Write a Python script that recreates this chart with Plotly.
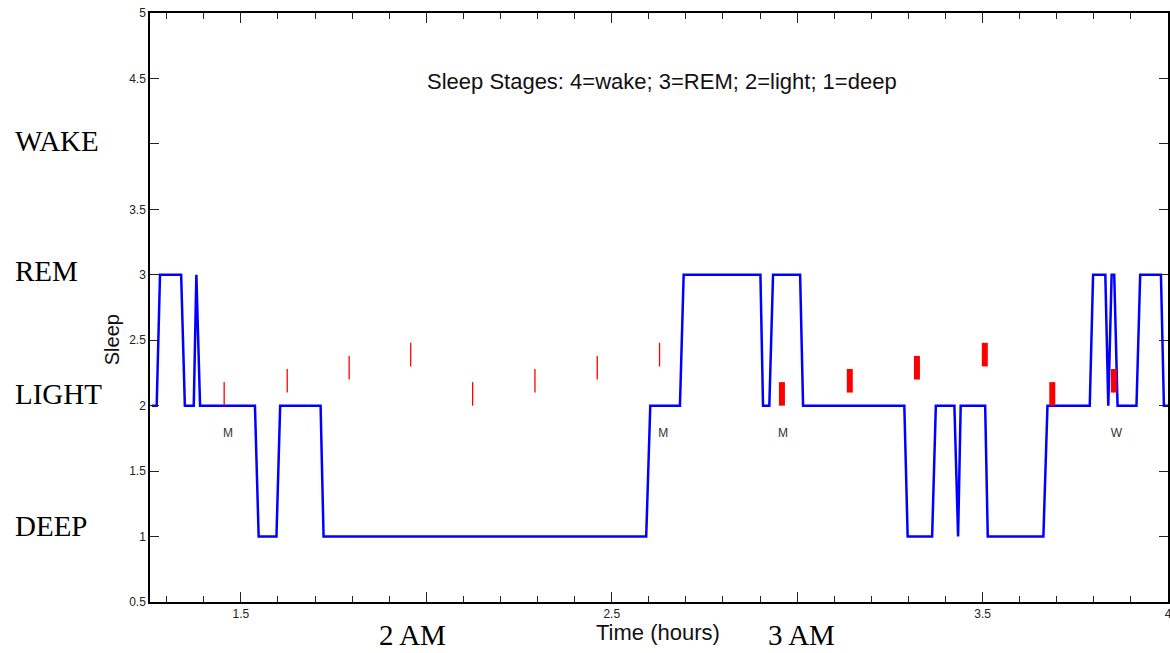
import plotly.graph_objects as go

# Hypnogram (sleep stage vs time in hours)
stage_time = [1.260, 1.273, 1.282, 1.339, 1.349, 1.373, 1.380, 1.390, 1.538, 1.548,
              1.596, 1.606, 1.715, 1.723, 2.593, 2.604, 2.684, 2.694, 2.901, 2.908,
              2.925, 2.935, 3.008, 3.016, 3.289, 3.298, 3.364, 3.374, 3.424, 3.434,
              3.441, 3.507, 3.514, 3.664, 3.675, 3.789, 3.798, 3.831, 3.839, 3.848,
              3.855, 3.864, 3.915, 3.925, 3.981, 3.989, 4.000]
stage_value = [2, 2, 3, 3, 2, 2, 3, 2, 2, 1,
               1, 2, 2, 1, 1, 2, 2, 3, 3, 2,
               2, 3, 3, 2, 2, 1, 1, 2, 2, 1,
               2, 2, 1, 1, 2, 2, 3, 3, 2, 3,
               3, 2, 2, 3, 3, 2, 2]

# Red event markers (thin)
thin_time = [1.455, 1.625, 1.792, 1.958, 2.125, 2.293, 2.461, 2.629]
thin_low = [2.0, 2.1, 2.2, 2.3, 2.0, 2.1, 2.2, 2.3]
thin_high = [2.18, 2.28, 2.38, 2.48, 2.18, 2.28, 2.38, 2.48]
# Red event markers (thick)
thick_time = [2.959, 3.142, 3.323, 3.506, 3.688, 3.854]
thick_low = [2.0, 2.1, 2.2, 2.3, 2.0, 2.1]
thick_high = [2.18, 2.28, 2.38, 2.48, 2.18, 2.28]

# Small letter annotations
letter_time = [1.465, 2.639, 2.962, 3.861]
letter_text = ["M", "M", "M", "W"]
letter_y = 1.786

# Stage names on the left
stage_names = ["WAKE", "REM", "LIGHT", "DEEP"]
stage_name_y = [4.02, 3.03, 2.09, 1.08]

# Axis ticks
x_tickvals = [1.5, 2.0, 2.5, 3.0, 3.5, 4.0]
x_ticktext = ["1.5", "", "2.5", "", "3.5", "4"]
y_tickvals = [0.5, 1.0, 1.5, 2.0, 2.5, 3.0, 3.5, 4.0, 4.5, 5.0]
y_ticktext = ["0.5", "1", "1.5", "2", "2.5", "3", "3.5", "", "4.5", "5"]

# Clock labels
clock_time = [1.963, 3.013]
clock_text = ["2 AM", "3 AM"]


def segments(xs, lows, highs):
    X, Y = [], []
    for x, lo, hi in zip(xs, lows, highs):
        X += [x, x, None]
        Y += [lo, hi, None]
    return X, Y


fig = go.Figure()
fig.add_trace(go.Scatter(x=stage_time, y=stage_value, mode="lines",
                         line=dict(color="#0000FF", width=2.5), showlegend=False,
                         hoverinfo="skip"))
tx, ty = segments(thin_time, thin_low, thin_high)
fig.add_trace(go.Scatter(x=tx, y=ty, mode="lines",
                         line=dict(color="#FF0000", width=1.3), showlegend=False,
                         hoverinfo="skip"))
kx, ky = segments(thick_time, thick_low, thick_high)
fig.add_trace(go.Scatter(x=kx, y=ky, mode="lines",
                         line=dict(color="#FF0000", width=6), showlegend=False,
                         hoverinfo="skip"))
fig.add_trace(go.Scatter(x=letter_time, y=[letter_y] * len(letter_time), mode="text",
                         text=letter_text,
                         textfont=dict(family="Liberation Sans, Arial", size=12, color="#333333"),
                         showlegend=False, hoverinfo="skip"))

annotations = []
annotations.append(dict(x=2.636, y=4.48, xref="x", yref="y",
                        text="Sleep Stages: 4=wake; 3=REM; 2=light; 1=deep",
                        showarrow=False,
                        font=dict(family="Liberation Sans, Arial", size=22, color="#111111")))
for name, yv in zip(stage_names, stage_name_y):
    annotations.append(dict(x=-0.135, y=yv, xref="paper", yref="y", text=name,
                            xanchor="left", yanchor="middle", showarrow=False,
                            font=dict(family="Liberation Serif, Times New Roman", size=29,
                                      color="#000000")))
for ct, txt in zip(clock_time, clock_text):
    annotations.append(dict(x=ct, y=-0.056, xref="x", yref="paper", text=txt,
                            xanchor="center", yanchor="middle", showarrow=False,
                            font=dict(family="Liberation Serif, Times New Roman", size=29,
                                      color="#000000")))
annotations.append(dict(x=2.625, y=-0.052, xref="x", yref="paper", text="Time (hours)",
                        xanchor="center", yanchor="middle", showarrow=False,
                        font=dict(family="Liberation Sans, Arial", size=22, color="#111111")))
annotations.append(dict(x=-0.0373, y=2.5, xref="paper", yref="y", text="Sleep",
                        textangle=-90, xanchor="center", yanchor="middle", showarrow=False,
                        font=dict(family="Liberation Sans, Arial", size=20, color="#111111")))

fig.update_layout(
    width=1170, height=653, autosize=False,
    margin=dict(l=150, r=2, t=13, b=51, autoexpand=False),
    paper_bgcolor="white", plot_bgcolor="white",
    annotations=annotations,
    xaxis=dict(range=[1.255, 4.0], tickmode="array", tickvals=x_tickvals, ticktext=x_ticktext,
               automargin=False, ticklabeloverflow="allow",
               ticks="inside", ticklen=10, tickcolor="#222222", showgrid=False, zeroline=False,
               showline=True, linecolor="#000000", linewidth=1.5, mirror="ticks",
               tickfont=dict(family="Liberation Sans, Arial", size=12, color="#222222"),
               minor=dict(dtick=0.1, tick0=0, ticks="inside", ticklen=6, tickcolor="#222222",
                          showgrid=False)),
    yaxis=dict(range=[0.5, 5.0], tickmode="array", tickvals=y_tickvals, ticktext=y_ticktext,
               automargin=False, ticklabeloverflow="allow",
               ticks="inside", ticklen=9, tickcolor="#222222", showgrid=False, zeroline=False,
               showline=True, linecolor="#000000", linewidth=1.5, mirror="ticks",
               tickfont=dict(family="Liberation Sans, Arial", size=12, color="#222222")),
)

fig.write_html(
    "out.html",
    config={"responsive": False, "displayModeBar": False},
    post_script="document.body.style.margin='0px'; document.body.style.overflow='hidden';",
)
